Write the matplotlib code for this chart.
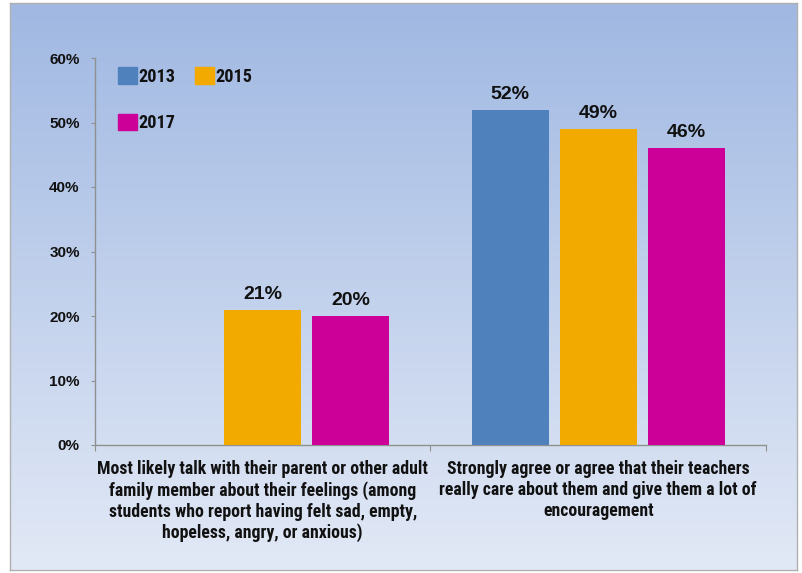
import numpy as np
import matplotlib
matplotlib.use("Agg")
import matplotlib.pyplot as plt
from matplotlib import font_manager
from matplotlib.font_manager import FontProperties
from matplotlib.patches import Patch

# Data
categories = [
    "Most likely talk with their parent or other adult\nfamily member about their feelings (among\nstudents who report having felt sad, empty,\nhopeless, angry, or anxious)",
    "Strongly agree or agree that their teachers\nreally care about them and give them a lot of\nencouragement",
]
years = ["2013", "2015", "2017"]
values_2013 = [np.nan, 52]
values_2015 = [21, 49]
values_2017 = [20, 46]
y_ticks = [0, 10, 20, 30, 40, 50, 60]

series = [values_2013, values_2015, values_2017]
colors = ["#4F81BD", "#F2AA00", "#CC0099"]

regular = "Liberation Sans"

W, H = 803, 573
fig = plt.figure(figsize=(W / 100, H / 100), dpi=100, facecolor="white")
renderer = fig.canvas.get_renderer()


def narrow_face():
    """Path of the narrowest bold face available, or None."""
    files = [f.fname for f in font_manager.fontManager.ttflist]
    keys = ["LiberationSansNarrow-Bold.", "RobotoCondensed-Bold.",
            "NotoSans-CondensedBold.", "OpenSans-CondensedBold.",
            "DejaVuSansCondensed-Bold."]
    for key in keys:
        for fn in files:
            if key.lower() in fn.replace(" ", "").replace("_", "-").lower():
                return fn
    return None


NARROW = narrow_face()


def fitted_font(text, width_px):
    """Condensed bold font sized so that `text` spans width_px pixels."""
    if NARROW:
        prop = FontProperties(fname=NARROW, size=10)
    else:
        prop = FontProperties(family=regular, weight="bold", size=10)
    w, _, _ = renderer.get_text_width_height_descent(text, prop, ismath=False)
    prop.set_size(10 * width_px / w)
    return prop


# Gradient panel behind the chart
bg = fig.add_axes([10 / W, 3 / H, 787 / W, 567 / H])
top = np.array([160, 184, 226]) / 255
bottom = np.array([226, 233, 246]) / 255
t = np.linspace(0, 1, 256)[:, None]
grad = top[None, :] * (1 - t) + bottom[None, :] * t
bg.imshow(grad[:, None, :], aspect="auto", extent=[0, 1, 0, 1])
bg.set_xticks([])
bg.set_yticks([])
for s in bg.spines.values():
    s.set_color("#B0B0B0")
    s.set_linewidth(1.0)

# Main axes
x0, x1 = 95, 766
ytop, ybot = 58, 445
ax = fig.add_axes([x0 / W, (H - ybot) / H, (x1 - x0) / W, (ybot - ytop) / H])
ax.patch.set_alpha(0)

x = np.arange(len(categories))
offsets = [-0.262, 0.0, 0.262]
width = 0.229
for vals, off, col, yr in zip(series, offsets, colors, years):
    bars = ax.bar(x + off, vals, width=width, color=col, label=yr, zorder=3)
    for b, v in zip(bars, vals):
        if np.isnan(v):
            continue
        ax.annotate(f"{v:.0f}%", (b.get_x() + b.get_width() / 2, v),
                    xytext=(0, 5), textcoords="offset points",
                    ha="center", va="bottom", fontsize=14, fontweight="bold",
                    family=regular, color="#111111")

ax.set_xlim(-0.5, 1.5)
ax.set_ylim(0, 60)
ax.set_yticks(y_ticks)
ax.set_yticklabels([f"{v}%" for v in y_ticks], fontsize=11, fontweight="bold",
                   family=regular, color="#111111")
ax.tick_params(axis="y", direction="out", length=3, width=0.8, color="#909090", pad=8)

cat_font = fitted_font(categories[0].split("\n")[0], 331)
_, lp_h, lp_d = renderer.get_text_width_height_descent("lp", cat_font, ismath=False)
spacing = 0.81 * 20.7 / (lp_h - lp_d)
ax.set_xticks(x)
ax.set_xticklabels(categories, fontproperties=cat_font, color="#111111",
                   linespacing=spacing)
ax.tick_params(axis="x", which="major", length=0, pad=11)
ax.set_xticks([-0.5, 0.5, 1.5], minor=True)
ax.tick_params(axis="x", which="minor", direction="out", length=4, width=0.8, color="#909090")

for side in ["top", "right"]:
    ax.spines[side].set_visible(False)
for side in ["left", "bottom"]:
    ax.spines[side].set_color("#909090")
    ax.spines[side].set_linewidth(1.0)

# Legend laid out as two entries on the first row, one on the second
handles = [Patch(color=c) for c in colors]
order = [0, 2, 1]
leg_font = fitted_font("2013", 37)
fs_px = leg_font.get_size_in_points() * 100 / 72
leg = ax.legend([handles[i] for i in order], [years[i] for i in order],
                ncol=2, loc="upper left", bbox_to_anchor=(0.034, 0.977),
                frameon=False, borderpad=0, borderaxespad=0,
                handlelength=19 / fs_px, handleheight=19 / fs_px,
                handletextpad=2 / fs_px, columnspacing=19 / fs_px,
                labelspacing=28 / fs_px, prop=leg_font)
for txt in leg.get_texts():
    txt.set_color("#111111")

fig.savefig("out.png", dpi=100, facecolor="white")
